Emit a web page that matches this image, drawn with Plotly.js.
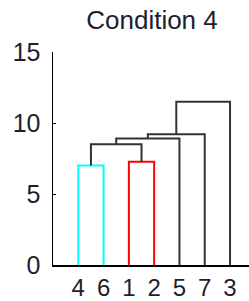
<!DOCTYPE html>
<html>
<head>
<meta charset="utf-8">
<script src="https://cdn.plot.ly/plotly-3.0.1.min.js"></script>
<style>html,body{margin:0;padding:0;background:#fff;}#chart{width:249px;height:301px;}</style>
</head>
<body>
<div id="chart"></div>
<script>
// Leaf order along the x axis
var leafLabels = ['4', '6', '1', '2', '5', '7', '3'];
// Merges: left child, right child, link height
var mergeLeft   = ['4', '1', 'c1', 'c3', 'c4', 'c5'];
var mergeRight  = ['6', '2', 'c2', '5',  '7',  '3'];
var mergeHeight = [7.0, 7.27, 8.5, 8.9, 9.2, 11.5];
var mergeColor  = ['#00ffff', '#ff0000', '#333333', '#333333', '#333333', '#333333'];
var yTicks = [0, 5, 10, 15];

var pos = {}, hgt = {};
leafLabels.forEach(function (l, i) { pos[l] = i + 1; hgt[l] = 0; });
var traces = [];
for (var k = 0; k < mergeLeft.length; k++) {
  var a = mergeLeft[k], b = mergeRight[k], h = mergeHeight[k];
  traces.push({
    type: 'scatter', mode: 'lines', hoverinfo: 'skip', showlegend: false,
    x: [pos[a], pos[a], pos[b], pos[b]],
    y: [hgt[a], h, h, hgt[b]],
    line: {color: mergeColor[k], width: 2}
  });
  var id = 'c' + (k + 1);
  pos[id] = (pos[a] + pos[b]) / 2;
  hgt[id] = h;
}

var layout = {
  width: 249, height: 301,
  margin: {l: 53, r: 0, t: 52, b: 36},
  paper_bgcolor: '#fff', plot_bgcolor: '#fff',
  font: {family: 'Liberation Sans, Arial, sans-serif', color: '#1e1e30', size: 25},
  title: {text: 'Condition 4', x: 152 / 249, xref: 'container', y: 1 - 20 / 301, yref: 'container',
          xanchor: 'center', yanchor: 'middle', font: {size: 26, color: '#1e1e30'}},
  xaxis: {
    range: [0, 7.75], tickmode: 'array',
    tickvals: leafLabels.map(function (l, i) { return i + 1; }),
    ticktext: leafLabels, ticks: '', showgrid: false, zeroline: false,
    showline: true, linecolor: '#000', linewidth: 2, ticklabelstandoff: 0,
    tickfont: {size: 24}
  },
  yaxis: {
    range: [0, 15], tickvals: yTicks, ticks: 'inside', ticklen: 3, tickwidth: 1,
    tickcolor: '#000', showgrid: false, zeroline: false,
    showline: true, linecolor: '#000', linewidth: 1.5, ticklabelstandoff: 6,
    tickfont: {size: 25}
  }
};
Plotly.newPlot('chart', traces, layout, {displayModeBar: false, staticPlot: true});
</script>
</body>
</html>
